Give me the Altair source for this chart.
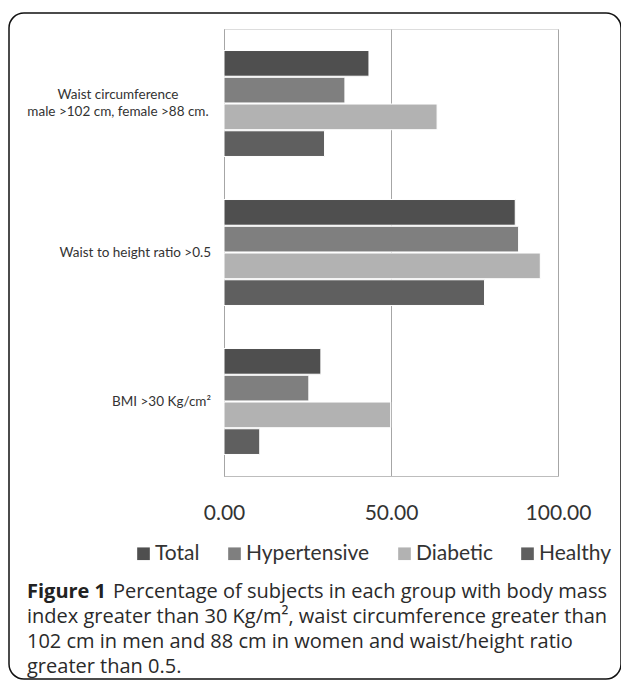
import altair as alt
import pandas as pd

measures = ["Waist circumference", "Waist to height ratio >0.5", "BMI >30 Kg/cm²"]
measure_labels = ["Waist circumference\nmale >102 cm, female >88 cm.", "Waist to height ratio >0.5", "BMI >30 Kg/cm²"]
groups = ["Total", "Hypertensive", "Diabetic", "Healthy"]
total = [43.4, 87.2, 29.0]
hypertensive = [36.2, 88.2, 25.4]
diabetic = [63.8, 94.7, 49.9]
healthy = [30.1, 78.0, 10.7]
colors = ["#4f4f4f", "#7f7f7f", "#b2b2b2", "#5f5f5f"]
x_ticks = [0, 50, 100]
caption_bold = "Figure 1"
caption_first = "Percentage of subjects in each group with body mass"
caption_lines = [
    "index greater than 30 Kg/m², waist circumference greater than",
    "102 cm in men and 88 cm in women and waist/height ratio",
    "greater than 0.5.",
]

series = {"Total": total, "Hypertensive": hypertensive, "Diabetic": diabetic, "Healthy": healthy}
rows = []
for g in groups:
    for m, v in zip(measures, series[g]):
        rows.append({"measure": m, "group": g, "value": v})
df = pd.DataFrame(rows)
lab_df = pd.DataFrame({"measure": measures, "label": measure_labels})

W, H = 334, 447

y_enc = alt.Y("measure:N", sort=measures, title=None,
              scale=alt.Scale(paddingInner=0.289, paddingOuter=0.1445),
              axis=alt.Axis(labels=False, ticks=False, domainColor="#a6a6a6", domainWidth=1))

bars = alt.Chart(df).mark_bar(stroke="white", strokeWidth=1).encode(
    x=alt.X("value:Q", scale=alt.Scale(domain=[0, 100]), title=None,
            axis=alt.Axis(values=x_ticks, format=".2f", ticks=False, domainColor="#bdbdbd",
                          gridColor="#a6a6a6", gridWidth=1, labelFontSize=21, labelFont="Lato",
                          labelColor="#333", labelPadding=26, labelFlush=False,
                          labelOverlap=False)),
    y=y_enc,
    yOffset=alt.YOffset("group:N", sort=groups, scale=alt.Scale(paddingInner=0.04)),
    color=alt.Color("group:N", sort=groups, scale=alt.Scale(domain=groups, range=colors),
                    legend=alt.Legend(title=None, orient="none", legendX=-91, legendY=514,
                                      direction="horizontal", columns=4, symbolType="square",
                                      symbolSize=160, symbolStrokeWidth=0, labelFontSize=21,
                                      labelFont="Lato", labelColor="#333", columnPadding=24,
                                      labelOffset=1, labelLimit=300)),
)

lab_center = alt.Chart(lab_df).transform_filter(
    alt.datum.measure == measures[0]
).mark_text(align="center", baseline="middle", lineBreak="\n", font="Lato", fontSize=13.5,
            color="#333", lineHeight=17, dy=-8.5).encode(
    y=alt.Y("measure:N", sort=measures), x=alt.value(-106), text="label:N")

lab_right = alt.Chart(lab_df).transform_filter(
    alt.datum.measure != measures[0]
).mark_text(align="right", baseline="middle", font="Lato", fontSize=13.5, color="#333").encode(
    y=alt.Y("measure:N", sort=measures), x=alt.value(-13), text="label:N")

one = pd.DataFrame({"k": [0]})
frame = alt.Chart(one).mark_rect(filled=False, stroke="#111", strokeWidth=1.5, cornerRadius=15).encode(
    x=alt.value(-215), x2=alt.value(397), y=alt.value(-16), y2=alt.value(650))

font_cap = "Open Sans"
size_cap = 20
cap_bold = alt.Chart(one).mark_text(align="left", baseline="middle", font=font_cap,
                                    fontSize=size_cap, fontWeight="bold", color="#222").encode(
    x=alt.value(-197), y=alt.value(563), text=alt.value(caption_bold))
cap_first = alt.Chart(one).mark_text(align="left", baseline="middle", font=font_cap,
                                     fontSize=size_cap, color="#2a2a2a").encode(
    x=alt.value(-111), y=alt.value(563), text=alt.value(caption_first))
cap_rest = [
    alt.Chart(one).mark_text(align="left", baseline="middle", font=font_cap,
                             fontSize=size_cap, color="#2a2a2a").encode(
        x=alt.value(-197), y=alt.value(563 + 25 * (i + 1)), text=alt.value(t))
    for i, t in enumerate(caption_lines)
]

chart = alt.layer(frame, bars, lab_center, lab_right, cap_bold, cap_first, *cap_rest).properties(
    width=W, height=H,
    autosize=alt.AutoSizeParams(type="none"),
    padding={"left": 216, "top": 21, "right": 63, "bottom": 204},
).configure_view(stroke=None).configure(background="white")

chart.save("out.html", embed_options={"renderer": "svg", "actions": False})
